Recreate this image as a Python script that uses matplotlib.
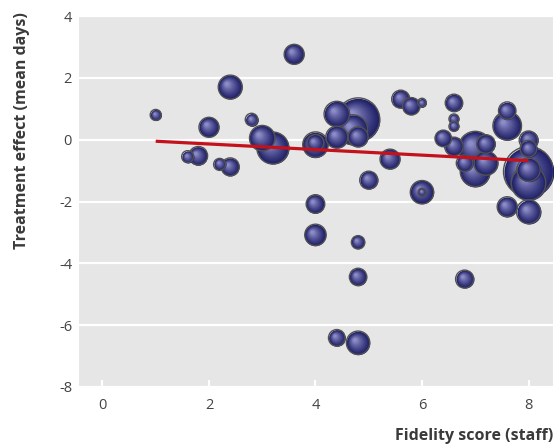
import numpy as np
import matplotlib
matplotlib.use('Agg')
import matplotlib.pyplot as plt
from matplotlib.path import Path
from matplotlib.colors import to_rgb

plt.rcParams['font.family'] = ['Open Sans', 'DejaVu Sans']

# fidelity score, treatment effect, bubble radius (px)
fidelity = [1.0, 1.6, 1.8, 2.0, 2.2, 2.4, 2.4, 2.8, 3.0, 3.2,
            3.6, 4.0, 4.0, 4.0, 4.0, 4.4, 4.4, 4.4, 4.7, 4.8,
            4.8, 4.8, 4.8, 4.8, 5.0, 5.4, 5.6, 5.8, 6.0, 6.0,
            6.0, 6.4, 6.6, 6.6, 6.6, 6.6, 6.8, 6.8, 7.0, 7.0,
            7.2, 7.2, 7.6, 7.6, 7.6, 8.0, 8.0, 8.0, 8.0, 8.0,
            8.0]
effect = [0.80, -0.55, -0.52, 0.40, -0.80, -0.88, 1.70, 0.65, 0.05, -0.27,
          2.76, -0.16, -0.10, -2.08, -3.08, 0.83, 0.08, -6.41, 0.32, 0.65,
          0.09, -3.32, -4.44, -6.57, -1.31, -0.63, 1.31, 1.08, 1.20, -1.70,
          -1.70, 0.04, 1.19, 0.67, 0.43, -0.22, -0.76, -4.51, -0.27, -1.03,
          -0.14, -0.76, 0.94, 0.45, -2.17, -0.02, -0.29, -0.97, -1.03, -1.40,
          -2.33]
radius = [5.5, 6, 9.3, 10, 6, 9, 12, 6.3, 12.7, 16,
          10, 12.7, 8.3, 9.3, 10.7, 12.7, 11, 8.3, 15, 21.7,
          10, 6.7, 8.7, 11.7, 9, 10, 9, 8.7, 4.3, 11.7,
          4, 8.3, 8.7, 5, 5, 9.3, 8.3, 9, 16.7, 15,
          9.3, 12, 8.7, 14.3, 10, 9.3, 8.3, 11.7, 25, 17.3,
          12]

# regression line
line_x = [1.0, 8.0]
line_y = [-0.05, -0.68]

fig = plt.figure(figsize=(5.54, 4.46), dpi=100)
ax = fig.add_axes([79/554, 59/446, 474/554, 371/446])
ax.set_facecolor('#e6e6e6')
for s in ax.spines.values():
    s.set_visible(False)

# layered circles to fake a shaded sphere
n_layers = 16
dark = np.array(to_rgb('#202068'))
light = np.array(to_rgb('#8c8cc8'))
markers = []
colors = []
for k in range(n_layers):
    t = k / (n_layers - 1)
    c = Path.circle(center=(-0.3*t, 0.3*t), radius=1 - 0.85*t)
    verts = np.vstack([[[-1, -1], [1, 1]], c.vertices])
    codes = np.concatenate([[Path.MOVETO, Path.MOVETO], c.codes])
    markers.append(Path(verts, codes))
    colors.append(dark + (light - dark) * t**1.2)

order = np.argsort(radius)[::-1]
for i in order:
    s = (1.44 * radius[i])**2
    for k in range(n_layers):
        ax.scatter([fidelity[i]], [effect[i]], s=s, marker=markers[k],
                   color=colors[k], linewidths=0, zorder=3)
    ax.scatter([fidelity[i]], [effect[i]], s=s, marker='o', facecolors='none',
               edgecolors='#525252', linewidths=1.0, zorder=3)

ax.plot(line_x, line_y, color='#c4121c', lw=2.3, zorder=4, solid_capstyle='butt')

ax.set_xlim(-0.44, 8.46)
ax.set_ylim(-8, 4)
ax.set_xticks([0, 2, 4, 6, 8])
ax.set_yticks([-8, -6, -4, -2, 0, 2, 4])
ax.set_yticklabels(['-8', '-6', '-4', '-2', '0', '2', '4'])
ax.yaxis.grid(True, color='white', lw=1.6)
ax.set_axisbelow(True)
ax.tick_params(axis='x', direction='in', length=5, width=1.5, color='white',
               labelsize=10.5, labelcolor='#444444', pad=8)
ax.tick_params(axis='y', length=0, labelsize=10.5, labelcolor='#444444', pad=5)

fig.text(22/554, 1 - 131/446, 'Treatment effect (mean days)', rotation=90,
         ha='center', va='center', fontsize=11.5, fontweight='bold', color='#3a3a3a')
fig.text(553/554, 1 - 436/446, 'Fidelity score (staff)', ha='right', va='center',
         fontsize=11.5, fontweight='bold', color='#3a3a3a')

fig.savefig('out.png', dpi=100)
